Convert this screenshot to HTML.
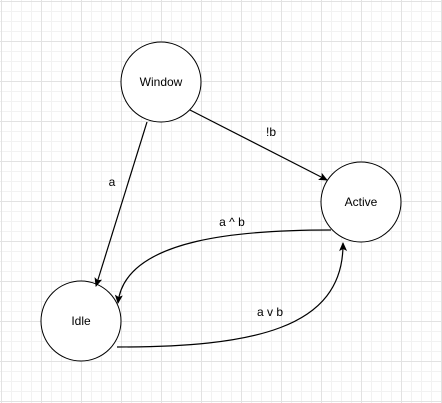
<!DOCTYPE html><html><head><style>body{margin:0;background:#fff}svg{display:block}text{font-family:"Liberation Sans",Arial,sans-serif;font-size:12px;fill:#000}</style></head><body>
<svg width="442" height="403" xmlns="http://www.w3.org/2000/svg">
<defs>
<pattern id="m" width="10" height="10" patternUnits="userSpaceOnUse" x="1" y="1"><path d="M0 0.5H10M0.5 0V10" stroke="#f2f2f2" stroke-width="1" fill="none"/></pattern>
<pattern id="M" width="40" height="40" patternUnits="userSpaceOnUse" x="1" y="1"><path d="M0 0.5H40M0.5 0V40" stroke="#e2e2e2" stroke-width="1" fill="none"/></pattern>
<marker id="a" markerWidth="10" markerHeight="10" refX="8" refY="4" orient="auto" markerUnits="userSpaceOnUse"><path d="M0 0L9 4L0 8L2 4Z" fill="#000"/></marker>
</defs>
<rect width="442" height="403" fill="url(#m)"/>
<rect width="442" height="403" fill="url(#M)"/>
<g fill="#fff" stroke="#000" stroke-width="1">
<circle cx="161" cy="82" r="40"/>
<circle cx="361" cy="202" r="40"/>
<circle cx="81" cy="321" r="40"/>
</g>
<g fill="none" stroke="#000" stroke-width="1.2">
<path d="M147 122L96 286" marker-end="url(#a)"/>
<path d="M190 110L327 180" marker-end="url(#a)"/>
<path d="M331 230C250 230 125 236 118 303" marker-end="url(#a)"/>
<path d="M117 347C250 347 344 330 343 243" marker-end="url(#a)"/>
</g>
<text x="161" y="86" text-anchor="middle">Window</text>
<text x="361" y="206" text-anchor="middle">Active</text>
<text x="81" y="325" text-anchor="middle">Idle</text>
<text x="112" y="186" text-anchor="middle">a</text>
<text x="271" y="136" text-anchor="middle">!b</text>
<text x="232" y="226" text-anchor="middle">a ^ b</text>
<text x="270" y="316" text-anchor="middle">a v b</text>
</svg></body></html>
